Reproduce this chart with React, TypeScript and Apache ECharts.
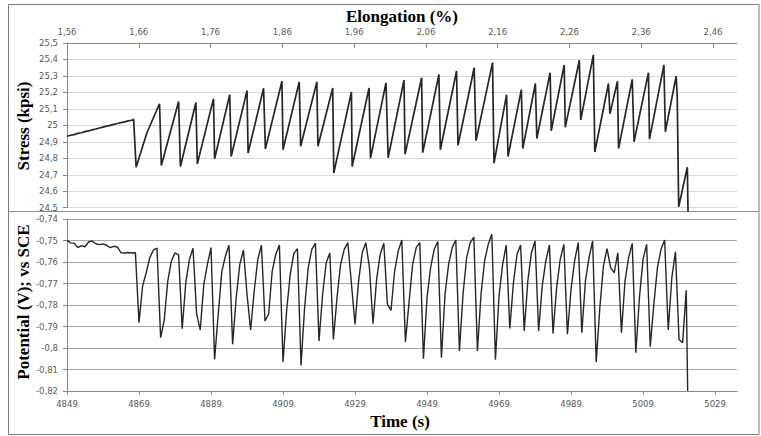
import React, { useEffect, useRef } from "react";
import * as echarts from "echarts";

const elongationTicks = [1.56, 1.66, 1.76, 1.86, 1.96, 2.06, 2.16, 2.26, 2.36, 2.46];
const timeTicks = [4849, 4869, 4889, 4909, 4929, 4949, 4969, 4989, 5009, 5029];

const stressTimes = [
  4849, 4850, 4851, 4852, 4853, 4854, 4855, 4856, 4857, 4858,
  4859, 4860, 4861, 4862, 4863, 4864, 4865, 4866, 4867, 4867.5,
  4868.2, 4871.2, 4874.7, 4875.2, 4880.0, 4880.5, 4884.8, 4885.2, 4889.7, 4890.0,
  4894.2, 4894.6, 4899.0, 4899.3, 4903.6, 4904.1, 4908.7, 4909.0, 4913.5, 4913.9,
  4918.4, 4918.7, 4922.8, 4923.1, 4928.0, 4928.2, 4932.9, 4933.3, 4937.6, 4938.2,
  4942.6, 4942.9, 4947.5, 4947.8, 4952.3, 4952.7, 4957.2, 4957.6, 4962.1, 4962.6,
  4967.2, 4967.6, 4971.1, 4971.5, 4975.2, 4975.6, 4979.1, 4979.5, 4983.2, 4983.5,
  4987.1, 4987.4, 4991.3, 4991.7, 4995.2, 4995.6, 4999.4, 4999.8, 5001.9, 5002.2,
  5006.0, 5006.5, 5010.5, 5010.8, 5014.8, 5015.2, 5018.2, 5018.5, 5018.9, 5021.3,
  5021.5,
];
const stressValues = [
  24.934, 24.940, 24.944, 24.951, 24.955, 24.962, 24.966, 24.973, 24.978, 24.984,
  24.989, 24.995, 25.000, 25.006, 25.011, 25.017, 25.021, 25.027, 25.031, 25.037,
  24.746, 24.955, 25.131, 24.756, 25.145, 24.750, 25.139, 24.766, 25.162, 24.797,
  25.186, 24.811, 25.211, 24.832, 25.225, 24.857, 25.268, 24.852, 25.264, 24.873,
  25.264, 24.873, 25.227, 24.711, 25.203, 24.750, 25.227, 24.801, 25.258, 24.803,
  25.275, 24.824, 25.289, 24.834, 25.309, 24.852, 25.330, 24.879, 25.350, 24.906,
  25.381, 24.770, 25.186, 24.811, 25.217, 24.859, 25.254, 24.920, 25.320, 24.967,
  25.367, 24.988, 25.395, 25.033, 25.428, 24.838, 25.254, 25.070, 25.268, 24.859,
  25.279, 24.900, 25.320, 24.916, 25.367, 24.961, 25.299, 25.172, 24.506, 24.746,
  24.476,
];

const potentialTimes = [
  4849, 4850, 4851, 4852, 4853, 4854, 4855, 4856, 4857, 4858,
  4859, 4860, 4861, 4862, 4863, 4864, 4865, 4866, 4867, 4868,
  4869, 4870, 4871, 4872, 4873, 4874, 4875, 4876, 4877, 4878,
  4879, 4880, 4881, 4882, 4883, 4884, 4885, 4886, 4887, 4888,
  4889, 4890, 4891, 4892, 4893, 4894, 4895, 4896, 4897, 4898,
  4899, 4900, 4901, 4902, 4903, 4904, 4905, 4906, 4907, 4908,
  4909, 4910, 4911, 4912, 4913, 4914, 4915, 4916, 4917, 4918,
  4919, 4920, 4921, 4922, 4923, 4924, 4925, 4926, 4927, 4928,
  4929, 4930, 4931, 4932, 4933, 4934, 4935, 4936, 4937, 4938,
  4939, 4940, 4941, 4942, 4943, 4944, 4945, 4946, 4947, 4948,
  4949, 4950, 4951, 4952, 4953, 4954, 4955, 4956, 4957, 4958,
  4959, 4960, 4961, 4962, 4963, 4964, 4965, 4966, 4967, 4968,
  4969, 4970, 4971, 4972, 4973, 4974, 4975, 4976, 4977, 4978,
  4979, 4980, 4981, 4982, 4983, 4984, 4985, 4986, 4987, 4988,
  4989, 4990, 4991, 4992, 4993, 4994, 4995, 4996, 4997, 4998,
  4999, 5000, 5001, 5002, 5003, 5004, 5005, 5006, 5007, 5008,
  5009, 5010, 5011, 5012, 5013, 5014, 5015, 5016, 5017, 5018,
  5019, 5020, 5021, 5021.4,
];
const potentialValues = [
  -0.7499, -0.7511, -0.7512, -0.7533, -0.7524, -0.7529, -0.7507, -0.7502, -0.7515, -0.7519,
  -0.7516, -0.7522, -0.7533, -0.7527, -0.7530, -0.7557, -0.7558, -0.7556, -0.7558, -0.7557,
  -0.7882, -0.7712, -0.7650, -0.7580, -0.7544, -0.7535, -0.7952, -0.7871, -0.7688, -0.7595,
  -0.7557, -0.7567, -0.7910, -0.7696, -0.7588, -0.7536, -0.7840, -0.7916, -0.7704, -0.7611,
  -0.7533, -0.8053, -0.7843, -0.7645, -0.7572, -0.7522, -0.7983, -0.7766, -0.7611, -0.7544,
  -0.7750, -0.7916, -0.7735, -0.7588, -0.7522, -0.7874, -0.7843, -0.7642, -0.7564, -0.7521,
  -0.8065, -0.7828, -0.7657, -0.7561, -0.7538, -0.8081, -0.7812, -0.7626, -0.7541, -0.7513,
  -0.7967, -0.7750, -0.7603, -0.7558, -0.7960, -0.7766, -0.7611, -0.7541, -0.7510, -0.7700,
  -0.7890, -0.7688, -0.7557, -0.7510, -0.7626, -0.7887, -0.7681, -0.7564, -0.7513, -0.7797,
  -0.7825, -0.7642, -0.7549, -0.7498, -0.7972, -0.7789, -0.7611, -0.7533, -0.7510, -0.8050,
  -0.7766, -0.7626, -0.7541, -0.7505, -0.8045, -0.7750, -0.7611, -0.7533, -0.7498, -0.8014,
  -0.7750, -0.7580, -0.7510, -0.7484, -0.8014, -0.7750, -0.7595, -0.7518, -0.7471, -0.8054,
  -0.7758, -0.7611, -0.7522, -0.7909, -0.7696, -0.7564, -0.7521, -0.7921, -0.7688, -0.7557,
  -0.7502, -0.7921, -0.7712, -0.7595, -0.7521, -0.7933, -0.7719, -0.7588, -0.7518, -0.7936,
  -0.7727, -0.7595, -0.7510, -0.7929, -0.7688, -0.7580, -0.7502, -0.8065, -0.7812, -0.7619,
  -0.7538, -0.7626, -0.7650, -0.7557, -0.7929, -0.7688, -0.7580, -0.7513, -0.8022, -0.7766,
  -0.7588, -0.7518, -0.7994, -0.7797, -0.7626, -0.7541, -0.7498, -0.7916, -0.7673, -0.7553,
  -0.7960, -0.7975, -0.7732, -0.8200,
];

const LABEL_FONT = "DejaVu Sans";
const TITLE_FONT = "Liberation Serif";
const AXIS_COLOR = "#868686";
const LABEL_COLOR = "#595959";

function commaNum(v: number, digits: number): string {
  const f = Math.pow(10, digits);
  return String(Math.round(v * f) / f).replace(".", ",");
}

export default function App() {
  const ref = useRef<HTMLDivElement>(null);

  useEffect(() => {
    if (!ref.current) return;
    const chart = echarts.init(ref.current, null, { renderer: "svg" });
    const stressData = stressTimes.map((t, i) => [t, stressValues[i]]);
    const potentialData = potentialTimes.map((t, i) => [t, potentialValues[i]]);
    const labelStyle = { fontFamily: LABEL_FONT, fontSize: 8.5, color: LABEL_COLOR };

    chart.setOption({
      animation: false,
      backgroundColor: "#ffffff",
      grid: [
        { left: 67, right: 24, top: 43, height: 164.7 },
        { left: 67, right: 24, top: 219, height: 172 },
      ],
      xAxis: [
        {
          type: "value",
          gridIndex: 0,
          position: "bottom",
          min: 4849,
          max: 5035.1,
          show: false,
        },
        {
          type: "value",
          gridIndex: 0,
          position: "top",
          min: 1.56,
          max: 2.4934,
          axisLine: { show: true, onZero: false, lineStyle: { color: AXIS_COLOR } },
          axisTick: {
            show: true,
            inside: true,
            length: 5,
            customValues: elongationTicks,
            lineStyle: { color: AXIS_COLOR },
          },
          axisLabel: {
            ...labelStyle,
            margin: 7,
            customValues: elongationTicks,
            formatter: (v: number) => v.toFixed(2).replace(".", ","),
          },
          splitLine: { show: false },
        },
        {
          type: "value",
          gridIndex: 1,
          position: "bottom",
          min: 4849,
          max: 5035.1,
          axisLine: { show: true, onZero: false, lineStyle: { color: AXIS_COLOR } },
          axisTick: {
            show: true,
            length: 4,
            customValues: timeTicks,
            lineStyle: { color: AXIS_COLOR },
          },
          axisLabel: {
            ...labelStyle,
            margin: 8,
            customValues: timeTicks,
            formatter: (v: number) => String(Math.round(v)),
          },
          splitLine: { show: false },
        },
      ],
      yAxis: [
        {
          type: "value",
          gridIndex: 0,
          min: 24.5,
          max: 25.5,
          interval: 0.1,
          axisLine: { show: true, onZero: false, lineStyle: { color: AXIS_COLOR } },
          axisTick: { show: true, length: 4, lineStyle: { color: AXIS_COLOR } },
          axisLabel: { ...labelStyle, margin: 9, formatter: (v: number) => commaNum(v, 2) },
          splitLine: { show: true, lineStyle: { color: "#d9d9d9", width: 1 } },
        },
        {
          type: "value",
          gridIndex: 1,
          min: -0.82,
          max: -0.74,
          interval: 0.01,
          axisLine: { show: true, onZero: false, lineStyle: { color: AXIS_COLOR } },
          axisTick: { show: true, length: 4, lineStyle: { color: AXIS_COLOR } },
          axisLabel: { ...labelStyle, margin: 9, formatter: (v: number) => commaNum(v, 3) },
          splitLine: { show: true, lineStyle: { color: "#a6a6a6", width: 1 } },
        },
      ],
      series: [
        {
          name: "Stress",
          type: "line",
          xAxisIndex: 0,
          yAxisIndex: 0,
          data: stressData,
          showSymbol: false,
          symbol: "none",
          clip: false,
          lineStyle: { color: "#262626", width: 1.7 },
        },
        {
          name: "Potential",
          type: "line",
          xAxisIndex: 2,
          yAxisIndex: 1,
          data: potentialData,
          showSymbol: false,
          symbol: "none",
          clip: false,
          lineStyle: { color: "#262626", width: 1.4 },
        },
      ],
      graphic: [
        {
          type: "rect",
          silent: true,
          shape: { x: 8.5, y: 4.5, width: 750.5, height: 430 },
          style: { fill: "none", stroke: "#7a7a7a", lineWidth: 1 },
        },
        {
          type: "line",
          silent: true,
          shape: { x1: 8.5, y1: 211.5, x2: 759, y2: 211.5 },
          style: { stroke: "#8c8c8c", lineWidth: 1 },
        },
        {
          type: "text",
          x: 402,
          y: 16,
          style: {
            text: "Elongation (%)",
            fontFamily: TITLE_FONT,
            fontWeight: "bold",
            fontSize: 17,
            fill: "#000000",
            align: "center",
            verticalAlign: "middle",
          },
        },
        {
          type: "text",
          x: 400,
          y: 421,
          style: {
            text: "Time (s)",
            fontFamily: TITLE_FONT,
            fontWeight: "bold",
            fontSize: 17,
            fill: "#000000",
            align: "center",
            verticalAlign: "middle",
          },
        },
        {
          type: "text",
          x: 23,
          y: 126,
          rotation: Math.PI / 2,
          style: {
            text: "Stress (kpsi)",
            fontFamily: TITLE_FONT,
            fontWeight: "bold",
            fontSize: 17,
            fill: "#000000",
            align: "center",
            verticalAlign: "middle",
          },
        },
        {
          type: "text",
          x: 23,
          y: 302,
          rotation: Math.PI / 2,
          style: {
            text: "Potential (V); vs SCE",
            fontFamily: TITLE_FONT,
            fontWeight: "bold",
            fontSize: 17,
            fill: "#000000",
            align: "center",
            verticalAlign: "middle",
          },
        },
      ],
    });

    return () => {
      chart.dispose();
    };
  }, []);

  return (
    <div
      ref={ref}
      style={{ position: "fixed", left: 0, top: 0, width: 761, height: 436 }}
    />
  );
}
